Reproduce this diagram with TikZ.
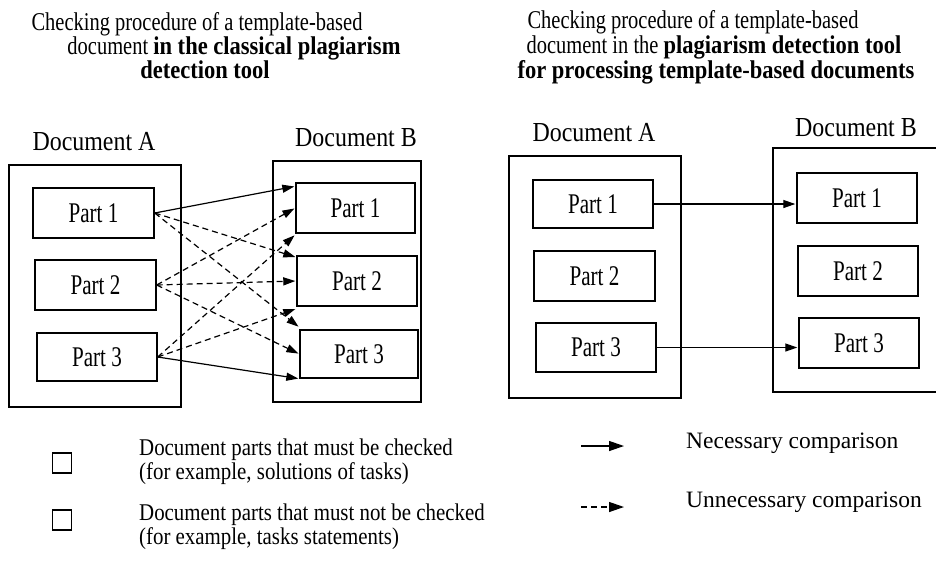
\documentclass[tikz,border=0pt]{standalone}
\usepackage{fontspec}
\setmainfont{Liberation Serif}
% narrow, tall faces for the lettering
\newfontfamily\partface[FakeStretch=0.74]{Liberation Serif}
\newfontfamily\docface[FakeStretch=0.87]{Liberation Serif}
\newfontfamily\titleface[FakeStretch=0.8]{Liberation Serif}
\newfontfamily\titlebold[FakeStretch=0.88]{Liberation Serif Bold}
\newfontfamily\keyface[FakeStretch=0.87]{Liberation Serif}
\usetikzlibrary{arrows.meta,calc}

\begin{document}
\begin{tikzpicture}[x=1pt,y=-1pt,
  frame/.style={draw,line width=1.4pt,inner sep=0pt},
  part/.style={draw,line width=1.4pt,inner sep=0pt,font=\partface\fontsize{28.5}{30}\selectfont},
  conn/.style={line width=1.2pt,-{Triangle[length=12pt,width=8pt]},shorten >=1pt},
  dashconn/.style={conn,dash pattern=on 6pt off 4pt},
  keyarrow/.style={line width=1.3pt,-{Triangle[length=15pt,width=10pt]}},
  doclbl/.style={font=\docface\fontsize{27.5}{30}\selectfont,inner sep=0pt,anchor=base},
  keylbl/.style={font=\keyface\fontsize{24}{26}\selectfont,inner sep=0pt,anchor=base west},
  cmplbl/.style={font=\fontsize{23.5}{26}\selectfont,inner sep=0pt,anchor=base west},
  ttl/.style={font=\titleface\fontsize{25.6}{26}\selectfont,inner sep=0pt,anchor=base},
  dot/.style={circle,fill,inner sep=0pt,minimum size=3pt}]
\useasboundingbox (0,0) rectangle (936,566);
\clip (0,0) rectangle (936,566);

\newcommand{\bd}[1]{{\titlebold\fontsize{25.6}{26}\selectfont #1}}

% ---------- titles ----------
\node[ttl] (lt1) at (197,30) {Checking procedure of a template-based};
\node[ttl] (lt2) at (234,54) {document \bd{in the classical plagiarism}};
\node[ttl] (lt3) at (205,78) {\bd{detection tool}};

\node[ttl] (rt1) at (693,28) {Checking procedure of a template-based};
\node[ttl] (rt2) at (714,53) {document in the \bd{plagiarism detection tool}};
\node[ttl] (rt3) at (716,78) {\bd{for processing template-based documents}};

% ---------- classical tool ----------
\node[doclbl] (lAl) at (94,150) {Document A};
\node[doclbl] (lBl) at (356,146) {Document B};

\node[frame,minimum width=172pt,minimum height=242pt] (lA) at (95,286) {};
\node[frame,minimum width=148pt,minimum height=241pt] (lB) at (347,281.5) {};

\node[part,minimum width=121pt,minimum height=50pt] (la1) at (93.5,213) {Part 1};
\node[part,minimum width=121pt,minimum height=50pt] (la2) at (95.5,285) {Part 2};
\node[part,minimum width=120pt,minimum height=48pt] (la3) at (97,357) {Part 3};

\node[part,minimum width=119pt,minimum height=50pt] (lb1) at (355.5,208) {Part 1};
\node[part,minimum width=120pt,minimum height=50pt] (lb2) at (357,281) {Part 2};
\node[part,minimum width=118pt,minimum height=48pt] (lb3) at (359,354) {Part 3};

% every part of A against every part of B
\draw[conn]     (la1.east) -- ($(lb1.north west)+(0,4)$);
\draw[dashconn] (la1.east) -- ($(lb2.north west)+(0,2)$);
\draw[dashconn] (la1.east) -- ($(lb3.north west)+(0,-2)$);
\draw[dashconn] (la2.east) -- (lb1.west);
\draw[dashconn] (la2.east) -- (lb2.west);
\draw[dashconn] (la2.east) -- (lb3.west);
\draw[dashconn] (la3.east) -- ($(lb1.south west)+(0,1)$);
\draw[dashconn] (la3.east) -- ($(lb2.south west)+(0,2)$);
\draw[conn]     (la3.east) -- (lb3.south west);
\node[dot] (d1) at (la1.east) {};
\node[dot] (d2) at (la2.east) {};
\node[dot] (d3) at (la3.east) {};

% ---------- template-based tool ----------
\node[doclbl] (rAl) at (594,141) {Document A};
\node[doclbl] (rBl) at (856,136) {Document B};

\node[frame,minimum width=172pt,minimum height=242pt] (rA) at (595,277) {};
\node[frame,minimum width=187pt,minimum height=244pt] (rB) at (866.5,270) {};

\node[part,minimum width=120pt,minimum height=48pt] (ra1) at (593,204) {Part 1};
\node[part,minimum width=121pt,minimum height=50pt] (ra2) at (594.5,276) {Part 2};
\node[part,minimum width=120pt,minimum height=49pt] (ra3) at (596,347.5) {Part 3};

\node[part,minimum width=120pt,minimum height=50pt] (rb1) at (857,198) {Part 1};
\node[part,minimum width=120pt,minimum height=50pt] (rb2) at (858,271) {Part 2};
\node[part,minimum width=120pt,minimum height=50pt] (rb3) at (859,343) {Part 3};

\draw[conn] (ra1.east) -- (ra1.east -| rb1.west);
\draw[conn] (ra3.east) -- (ra3.east -| rb3.west);

% ---------- legend ----------
\node[frame,minimum width=19pt,minimum height=20pt] (k1) at (62,463) {};
\node[frame,minimum width=19pt,minimum height=20pt] (k2) at (62,520) {};

\node[keylbl] (k1a) at (139,455) {Document parts that must be checked};
\node[keylbl] (k1b) at (139,479) {(for example, solutions of tasks)};
\node[keylbl] (k2a) at (139,520) {Document parts that must not be checked};
\node[keylbl] (k2b) at (139,544) {(for example, tasks statements)};

\coordinate (s1) at (581,446);
\coordinate (e1) at (624,446);
\coordinate (s2) at (581,507);
\coordinate (e2) at (624,507);
\draw[keyarrow] (s1) -- (e1);
\draw[keyarrow,dash pattern=on 6pt off 4pt] (s2) -- (e2);

\node[cmplbl] (n1) at (686,448) {Necessary comparison};
\node[cmplbl] (n2) at (686,507) {Unnecessary comparison};
\end{tikzpicture}
\end{document}
